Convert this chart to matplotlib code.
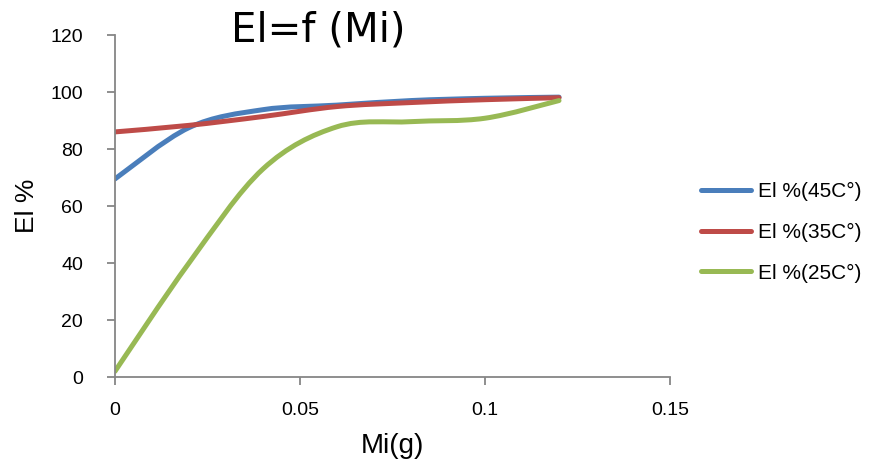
#!/usr/bin/env python3
"""El = f(Mi) at three temperatures, smoothed lines in spreadsheet style."""

import matplotlib
matplotlib.use("Agg")
import matplotlib.pyplot as plt
from matplotlib.path import Path
from matplotlib.patches import PathPatch
from matplotlib.lines import Line2D
import numpy as np

plt.rcParams["font.family"] = ["Liberation Sans", "DejaVu Sans"]

MI = [0, 0.02, 0.04, 0.06, 0.08, 0.10, 0.12]
EL_45 = [69.5, 87.5, 93.8, 95.4, 97.0, 97.8, 98.2]
EL_35 = [86.0, 88.3, 91.4, 94.9, 96.3, 97.3, 98.0]
EL_25 = [2.0, 40.0, 73.0, 87.8, 89.6, 90.8, 97.0]

SERIES = [
    ("El %(45C°)", EL_45, "#4A7EBB"),
    ("El %(35C°)", EL_35, "#BE4B48"),
    ("El %(25C°)", EL_25, "#98B954"),
]

AXIS_GRAY = "#868686"
LW = 3.6


def smooth_path(x, y):
    """Cubic Bezier through the points (Catmull-Rom control points)."""
    pts = np.column_stack([x, y]).astype(float)
    n = len(pts)
    verts = [pts[0]]
    codes = [Path.MOVETO]
    for i in range(n - 1):
        p0 = pts[i - 1] if i > 0 else pts[i]
        p1 = pts[i]
        p2 = pts[i + 1]
        p3 = pts[i + 2] if i + 2 < n else pts[i + 1]
        c1 = p1 + (p2 - p0) / 6.0
        c2 = p2 - (p3 - p1) / 6.0
        verts += [c1, c2, p2]
        codes += [Path.CURVE4] * 3
    return Path(verts, codes)


fig = plt.figure(figsize=(8.73, 4.75), dpi=100)
ax = fig.add_axes([0.1317, 0.2063, 0.6358, 0.72])

handles = []
for label, vals, color in SERIES:
    patch = PathPatch(smooth_path(MI, vals), facecolor="none", edgecolor=color,
                      linewidth=LW, capstyle="round", joinstyle="round")
    ax.add_patch(patch)
    handles.append(Line2D([], [], color=color, linewidth=LW,
                          solid_capstyle="round", label=label))

ax.set_xlim(0, 0.15)
ax.set_ylim(0, 120)
ax.set_xticks([0, 0.05, 0.1, 0.15])
ax.set_xticklabels(["0", "0.05", "0.1", "0.15"])
ax.set_yticks(np.arange(0, 121, 20))

for side in ("top", "right"):
    ax.spines[side].set_visible(False)
for side in ("left", "bottom"):
    ax.spines[side].set_color(AXIS_GRAY)
    ax.spines[side].set_linewidth(1.3)
ax.tick_params(axis="both", direction="out", length=6, width=1.3,
               color=AXIS_GRAY, labelsize=14, labelcolor="black")
ax.tick_params(axis="x", pad=12)
ax.tick_params(axis="y", pad=17)

ax.set_xlabel("Mi(g)", fontsize=20, labelpad=10)
ax.set_ylabel("El %", fontsize=19, labelpad=8)

fig.text(0.364, 0.935, "El=f (Mi)", fontsize=29, ha="center", va="center",
         family=["DejaVu Sans"])

fig.legend(handles=handles, loc="center left", bbox_to_anchor=(0.782, 0.511),
           frameon=False, fontsize=15, handlelength=2.4, handletextpad=0.3,
           labelspacing=1.05)

fig.savefig("out.png", dpi=100)
plt.close(fig)
